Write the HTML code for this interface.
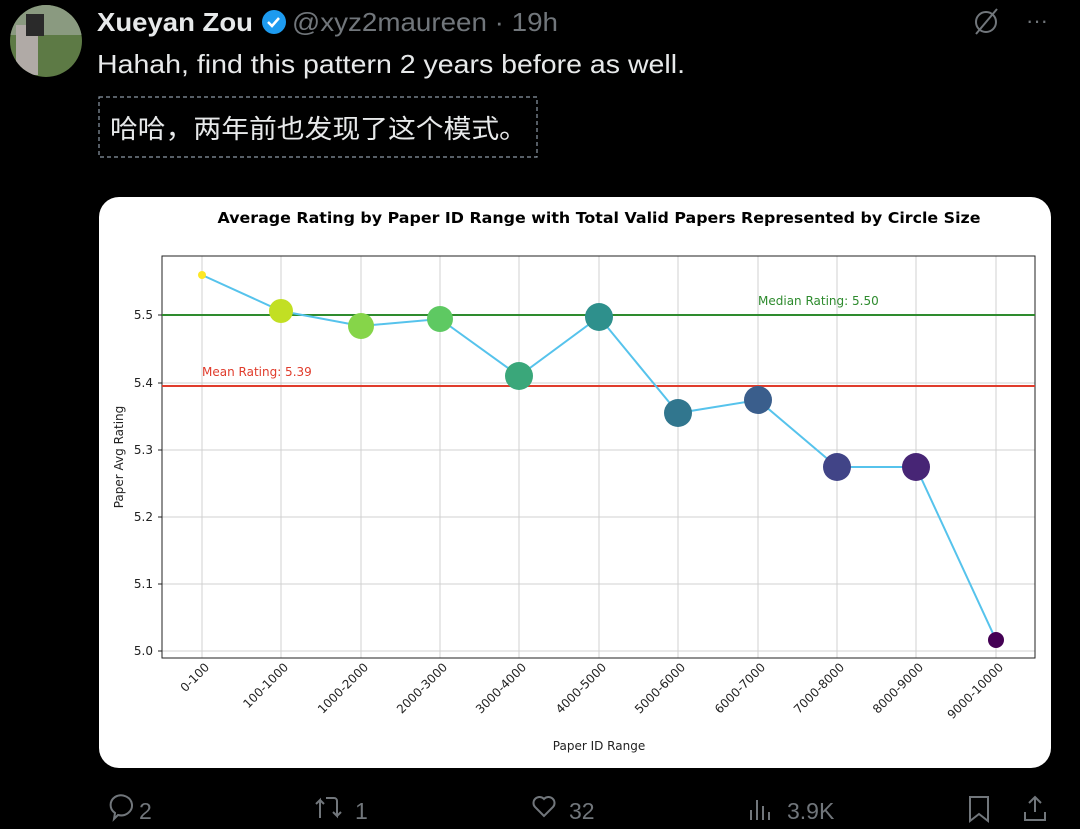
<!DOCTYPE html>
<html><head><meta charset="utf-8"><style>
html,body{margin:0;padding:0;background:#000;width:1080px;height:829px;overflow:hidden}
svg{display:block}
</style></head><body>
<svg width="1080" height="829" viewBox="0 0 1080 829" xmlns="http://www.w3.org/2000/svg" font-family="Liberation Sans, DejaVu Sans, sans-serif">
<rect width="1080" height="829" fill="#000"/>
<defs><clipPath id="av"><circle cx="46" cy="41" r="36"/></clipPath></defs>
<g clip-path="url(#av)">
<rect x="10" y="5" width="72" height="72" fill="#5d7a45"/>
<rect x="10" y="5" width="72" height="30" fill="#8a9a80"/>
<rect x="16" y="25" width="22" height="50" fill="#b0aaa6"/>
<rect x="26" y="14" width="18" height="22" fill="#2a2a2a"/>
</g>
<text x="97" y="31" fill="#e7e9ea" font-size="26" font-weight="bold" textLength="156" lengthAdjust="spacingAndGlyphs">Xueyan Zou</text>
<circle cx="274" cy="22" r="12" fill="#1d9bf0"/>
<path d="M268 22 l4 4 l7 -8" stroke="#fff" stroke-width="2.5" fill="none"/>
<text x="292" y="31" fill="#71767b" font-size="26" textLength="266" lengthAdjust="spacingAndGlyphs">@xyz2maureen · 19h</text>
<text x="97" y="73" fill="#e7e9ea" font-size="26" textLength="588" lengthAdjust="spacingAndGlyphs">Hahah, find this pattern 2 years before as well.</text>
<rect x="99" y="97" width="438" height="60" fill="none" stroke="#8b98a5" stroke-dasharray="4,3" stroke-width="1.2"/>
<text x="110" y="138" fill="#e7e9ea" font-size="26" textLength="417" lengthAdjust="spacingAndGlyphs" font-family="Liberation Sans, Noto Sans CJK SC, sans-serif">哈哈，两年前也发现了这个模式。</text>
<circle cx="986" cy="22" r="10" fill="none" stroke="#71767b" stroke-width="2"/>
<line x1="976" y1="34" x2="997" y2="9" stroke="#71767b" stroke-width="2"/>
<text x="1026" y="28" fill="#71767b" font-size="22">···</text>
<rect x="99" y="197" width="952" height="571" rx="20" fill="#fff"/>
<g font-family="DejaVu Sans, sans-serif">
<text x="599" y="223" font-size="15" font-weight="bold" text-anchor="middle" fill="#000" textLength="763" lengthAdjust="spacingAndGlyphs">Average Rating by Paper ID Range with Total Valid Papers Represented by Circle Size</text>
<g stroke="#d0d0d0" stroke-width="1">
<line x1="202" y1="256" x2="202" y2="658"/><line x1="281" y1="256" x2="281" y2="658"/><line x1="361" y1="256" x2="361" y2="658"/><line x1="440" y1="256" x2="440" y2="658"/><line x1="519" y1="256" x2="519" y2="658"/><line x1="599" y1="256" x2="599" y2="658"/><line x1="678" y1="256" x2="678" y2="658"/><line x1="758" y1="256" x2="758" y2="658"/><line x1="837" y1="256" x2="837" y2="658"/><line x1="916" y1="256" x2="916" y2="658"/><line x1="996" y1="256" x2="996" y2="658"/>
<line x1="162" y1="651" x2="1035" y2="651"/><line x1="162" y1="584" x2="1035" y2="584"/><line x1="162" y1="517" x2="1035" y2="517"/><line x1="162" y1="450" x2="1035" y2="450"/><line x1="162" y1="383" x2="1035" y2="383"/><line x1="162" y1="315" x2="1035" y2="315"/>
</g>
<rect x="162" y="256" width="873" height="402" fill="none" stroke="#222" stroke-width="1"/>
<g font-size="12" fill="#222" text-anchor="end">
<text x="153" y="655">5.0</text><text x="153" y="588">5.1</text><text x="153" y="521">5.2</text><text x="153" y="454">5.3</text><text x="153" y="387">5.4</text><text x="153" y="319">5.5</text>
</g>
<g stroke="#222"><line x1="158" y1="651" x2="162" y2="651"/><line x1="158" y1="584" x2="162" y2="584"/><line x1="158" y1="517" x2="162" y2="517"/><line x1="158" y1="450" x2="162" y2="450"/><line x1="158" y1="383" x2="162" y2="383"/><line x1="158" y1="315" x2="162" y2="315"/></g>
<text transform="translate(123,457) rotate(-90)" font-size="12" text-anchor="middle" fill="#222">Paper Avg Rating</text>
<text x="599" y="750" font-size="12" text-anchor="middle" fill="#222">Paper ID Range</text>
<g font-size="12" fill="#222" text-anchor="end">
<text transform="translate(210,668) rotate(-45)">0-100</text>
<text transform="translate(289,668) rotate(-45)">100-1000</text>
<text transform="translate(369,668) rotate(-45)">1000-2000</text>
<text transform="translate(448,668) rotate(-45)">2000-3000</text>
<text transform="translate(527,668) rotate(-45)">3000-4000</text>
<text transform="translate(607,668) rotate(-45)">4000-5000</text>
<text transform="translate(686,668) rotate(-45)">5000-6000</text>
<text transform="translate(766,668) rotate(-45)">6000-7000</text>
<text transform="translate(845,668) rotate(-45)">7000-8000</text>
<text transform="translate(924,668) rotate(-45)">8000-9000</text>
<text transform="translate(1004,668) rotate(-45)">9000-10000</text>
</g>
<line x1="162" y1="315" x2="1035" y2="315" stroke="#2e8b2e" stroke-width="2"/>
<text x="758" y="305" font-size="12" fill="#2e8b2e">Median Rating: 5.50</text>
<line x1="162" y1="386" x2="1035" y2="386" stroke="#e03c2c" stroke-width="2"/>
<text x="202" y="376" font-size="12" fill="#e03c2c">Mean Rating: 5.39</text>
</g>
<polyline points="202,275 281,311 361,326 440,319 519,376 599,317 678,413 758,400 837,467 916,467 996,640" fill="none" stroke="#56c3ec" stroke-width="2"/>
<circle cx="202" cy="275" r="4" fill="#fde725"/>
<circle cx="281" cy="311" r="12" fill="#c2df23"/>
<circle cx="361" cy="326" r="13" fill="#86d549"/>
<circle cx="440" cy="319" r="13" fill="#5ec962"/>
<circle cx="519" cy="376" r="14" fill="#3aa77a"/>
<circle cx="599" cy="317" r="14" fill="#2e908c"/>
<circle cx="678" cy="413" r="14" fill="#31768e"/>
<circle cx="758" cy="400" r="14" fill="#3a5e8c"/>
<circle cx="837" cy="467" r="14" fill="#414487"/>
<circle cx="916" cy="467" r="14" fill="#472575"/>
<circle cx="996" cy="640" r="8" fill="#440154"/>
<g fill="none" stroke="#71767b" stroke-width="2">
<path d="M115 797 a11 10 0 1 1 3 18 l-4 4 l1 -6 a11 10 0 0 1 0 -16z"/>
<path d="M320 818 v-18 l-4 4 M320 800 l4 4 M326 798 h8 a3 3 0 0 1 3 3 v15 l-4 -4 M337 816 l4 -4"/>
<path d="M544 816 l-9 -9 a6 6 0 0 1 9 -8 a6 6 0 0 1 9 8z"/>
<path d="M751 820 v-10 M757 820 v-20 M763 820 v-14 M769 820 v-8"/>
<path d="M970 797 h18 v24 l-9 -7 l-9 7z"/>
<path d="M1035 797 v15 M1029 803 l6 -6 l6 6 M1025 812 v8 h20 v-8"/>
</g>
<g fill="#71767b" font-size="23">
<text x="139" y="819">2</text><text x="355" y="819">1</text><text x="569" y="819">32</text><text x="787" y="819">3.9K</text>
</g>
</svg>
</body></html>
